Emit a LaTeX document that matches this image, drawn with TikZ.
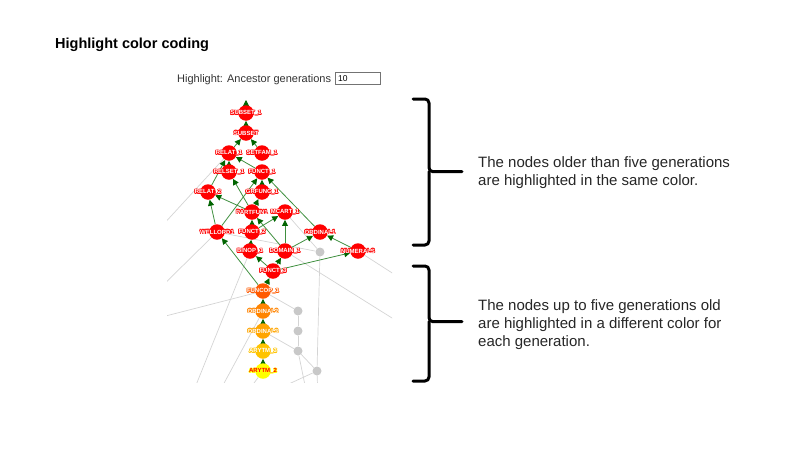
\documentclass[tikz,border=0pt]{standalone}
\usepackage{fontspec}
\setmainfont{Liberation Sans}
\usetikzlibrary{arrows.meta,backgrounds}

\definecolor{ancred}{HTML}{FF0000}
\definecolor{genA}{HTML}{FF5A00}
\definecolor{genB}{HTML}{FF8400}
\definecolor{genC}{HTML}{FFA500}
\definecolor{genD}{HTML}{FFC400}
\definecolor{genE}{HTML}{FFFF00}
\definecolor{pathgreen}{HTML}{3F8F3F}
\definecolor{tipgreen}{HTML}{006400}
\definecolor{otherline}{HTML}{D4D4D4}
\definecolor{othernode}{HTML}{C8C8C8}

% label with a coloured outline, no width of its own
\newcommand{\haloat}[3]{\rlap{\kern#1\raisebox{#2}{#3}}}
\newcommand{\halo}[2]{\makebox[0pt]{{\color{#1}\haloat{-.7pt}{0pt}{#2}\haloat{.7pt}{0pt}{#2}\haloat{0pt}{.7pt}{#2}\haloat{0pt}{-.7pt}{#2}\haloat{-.5pt}{.5pt}{#2}\haloat{.5pt}{.5pt}{#2}\haloat{-.5pt}{-.5pt}{#2}\haloat{.5pt}{-.5pt}{#2}}#2}}

\tikzset{
  anc/.style={circle, fill=#1, minimum size=15.5pt, inner sep=0pt},
  anc/.default=ancred,
  lbl/.style={inner sep=0pt, text=white, font=\fontsize{6}{6}\selectfont\bfseries},
  other/.style={circle, fill=othernode, minimum size=9pt, inner sep=0pt},
  pa/.style={draw=pathgreen, line width=0.8pt, -{Triangle[length=6pt,width=6pt,color=tipgreen]}},
  op/.style={draw=otherline, line width=0.7pt},
  bracket/.style={line width=3pt, line cap=round, line join=round, rounded corners=4pt},
  note/.style={anchor=north west, inner sep=0pt, align=left, font=\fontsize{15}{18}\selectfont, text=black!85}
}

\begin{document}
\begin{tikzpicture}[x=1pt,y=-1pt]
\useasboundingbox (0,0) rectangle (800,450);

\node (title) at (55,48.3) [anchor=base west, inner sep=0pt, font=\fontsize{14.5}{17}\selectfont\bfseries] {Highlight color coding};
\node (hllabel) at (177,82.3) [anchor=base west, inner sep=0pt, font=\fontsize{11}{13}\selectfont, text=black!80] {Highlight: Ancestor generations};
\node (genbox) at (335,72) [anchor=north west, draw=black!55, line width=0.8pt, minimum width=45pt, minimum height=12pt, inner sep=0pt] {};
\node (genval) at (338,81.5) [anchor=base west, inner sep=0pt, font=\fontsize{8.5}{10}\selectfont] {10};

% ancestors
\node (subset1) at (246,113) [anc] {};
\node (subset) at (246,133) [anc] {};
\node (relat1) at (229,153) [anc] {};
\node (setfam1) at (262,153) [anc] {};
\node (relset1) at (229,172) [anc] {};
\node (funct1) at (262,172) [anc] {};
\node (relat2) at (208,192) [anc] {};
\node (grfunc1) at (262,192) [anc] {};
\node (partfun1) at (252,212) [anc] {};
\node (mcart1) at (285,212) [anc] {};
\node (wellord1) at (217,232) [anc] {};
\node (funct2) at (252,232) [anc] {};
\node (ordinal1) at (320,232) [anc] {};
\node (binop1) at (250,251) [anc] {};
\node (domain1) at (285,251) [anc] {};
\node (numerals) at (358,251) [anc] {};
\node (funct3) at (273,271) [anc] {};
\node (funcop1) at (263,291) [anc=genA] {};
\node (ordinal2) at (263,311) [anc=genB] {};
\node (ordinal3) at (263,331) [anc=genC] {};
\node (arytm3) at (263,351) [anc=genD] {};
\node (arytm2) at (263,371) [anc=genE] {};

% not highlighted
\node (o0) at (320,252) [other] {};
\node (o1) at (298,311) [other] {};
\node (o2) at (298,331) [other] {};
\node (o3) at (298,351) [other] {};
\node (o4) at (317,371) [other] {};

% labels on top of all circles
\node (subset1-t) at (subset1) [lbl] {\halo{ancred}{SUBSET\_1}};
\node (subset-t) at (subset) [lbl] {\halo{ancred}{SUBSET}};
\node (relat1-t) at (relat1) [lbl] {\halo{ancred}{RELAT\_1}};
\node (setfam1-t) at (setfam1) [lbl] {\halo{ancred}{SETFAM\_1}};
\node (relset1-t) at (relset1) [lbl] {\halo{ancred}{RELSET\_1}};
\node (funct1-t) at (funct1) [lbl] {\halo{ancred}{FUNCT\_1}};
\node (relat2-t) at (relat2) [lbl] {\halo{ancred}{RELAT\_2}};
\node (grfunc1-t) at (grfunc1) [lbl] {\halo{ancred}{GRFUNC\_1}};
\node (partfun1-t) at (partfun1) [lbl] {\halo{ancred}{PARTFUN1}};
\node (mcart1-t) at (mcart1) [lbl] {\halo{ancred}{MCART\_1}};
\node (wellord1-t) at (wellord1) [lbl] {\halo{ancred}{WELLORD1}};
\node (funct2-t) at (funct2) [lbl] {\halo{ancred}{FUNCT\_2}};
\node (ordinal1-t) at (ordinal1) [lbl] {\halo{ancred}{ORDINAL1}};
\node (binop1-t) at (binop1) [lbl] {\halo{ancred}{BINOP\_1}};
\node (domain1-t) at (domain1) [lbl] {\halo{ancred}{DOMAIN\_1}};
\node (numerals-t) at (numerals) [lbl] {\halo{ancred}{NUMERALS}};
\node (funct3-t) at (funct3) [lbl] {\halo{ancred}{FUNCT\_3}};
\node (funcop1-t) at (funcop1) [lbl] {\halo{genA}{FUNCOP\_1}};
\node (ordinal2-t) at (ordinal2) [lbl] {\halo{genB}{ORDINAL2}};
\node (ordinal3-t) at (ordinal3) [lbl] {\halo{genC}{ORDINAL3}};
\node (arytm3-t) at (arytm3) [lbl] {\halo{genD}{ARYTM\_3}};
\node (arytm2-t) at (arytm2) [lbl, text=red] {\halo{genE}{ARYTM\_2}};

\coordinate (up) at (246,100);
\coordinate (offA) at (150,239);
\coordinate (offB) at (150,298);
\coordinate (offC) at (150,320);
\coordinate (offD) at (190,400);
\coordinate (offE) at (215,400);
\coordinate (offF) at (245,395);
\coordinate (offG) at (400,323);
\coordinate (offH) at (400,278);
\coordinate (offI) at (318,400);
\coordinate (offJ) at (280,388);
\coordinate (offK) at (308,400);

\begin{scope}[on background layer]
\clip (167,100) rectangle (392,382);
\draw[op] (offA) -- (relat1);
\draw[op] (offB) -- (wellord1);
\draw[op] (offC) -- (funcop1);
\draw[op] (offD) -- (binop1);
\draw[op] (offE) -- (ordinal2);
\draw[op] (offF) -- (arytm2);
\draw[op] (wellord1) -- (o0);
\draw[op] (mcart1) -- (o0);
\draw[op] (o0) -- (o4);
\draw[op] (o4) -- (offI);
\draw[op] (domain1) -- (offG);
\draw[op] (numerals) -- (offH);
\draw[op] (funcop1) -- (o1);
\draw[op] (o1) -- (o2);
\draw[op] (o2) -- (o3);
\draw[op] (ordinal3) -- (o3);
\draw[op] (o3) -- (o4);
\draw[op] (o3) -- (offK);
\draw[op] (offJ) -- (o4);

\draw[pa] (subset1) -- (up);
\draw[pa] (subset) -- (subset1);
\draw[pa] (relat1) -- (subset);
\draw[pa] (setfam1) -- (subset);
\draw[pa] (relset1) -- (relat1);
\draw[pa] (funct1) -- (relat1);
\draw[pa] (relat2) -- (relat1);
\draw[pa] (grfunc1) -- (funct1);
\draw[pa] (wellord1) -- (funct1);
\draw[pa] (ordinal1) -- (funct1);
\draw[pa] (partfun1) -- (grfunc1);
\draw[pa] (partfun1) -- (relat2);
\draw[pa] (partfun1) -- (relset1);
\draw[pa] (wellord1) -- (relat2);
\draw[pa] (funct2) -- (partfun1);
\draw[pa] (funct2) -- (mcart1);
\draw[pa] (domain1) -- (partfun1);
\draw[pa] (domain1) -- (mcart1);
\draw[pa] (domain1) -- (ordinal1);
\draw[pa] (numerals) -- (ordinal1);
\draw[pa] (binop1) -- (funct2);
\draw[pa] (funct3) -- (binop1);
\draw[pa] (funct3) -- (domain1);
\draw[pa] (funct3) -- (numerals);
\draw[pa] (funcop1) -- (funct3);
\draw[pa] (funcop1) -- (wellord1);
\draw[pa] (ordinal2) -- (funcop1);
\draw[pa] (ordinal3) -- (ordinal2);
\draw[pa] (arytm3) -- (ordinal3);
\draw[pa] (arytm2) -- (arytm3);
\end{scope}

% braces
\draw[bracket] (413,99) -| (429,171.7) -- (462,171.7);
\draw[bracket] (429,171.7) |- (413,245);
\draw[bracket] (413,266) -| (429,321.7) -- (462,321.7);
\draw[bracket] (429,321.7) |- (413,381);

\node (oldnote) at (478,156.5) [note] {The nodes older than five generations\\are highlighted in the same color.};
\node (newnote) at (478,299) [note] {The nodes up to five generations old\\are highlighted in a different color for\\each generation.};
\end{tikzpicture}
\end{document}
